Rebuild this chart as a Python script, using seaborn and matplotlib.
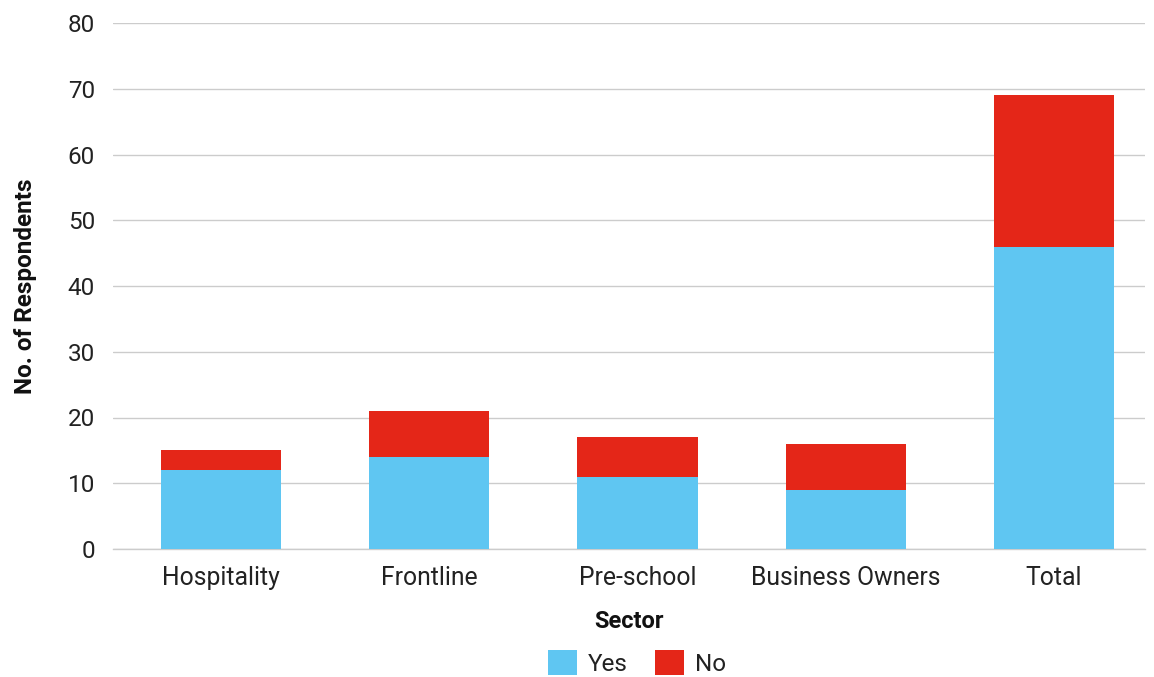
import matplotlib
matplotlib.use("Agg")
import matplotlib.pyplot as plt
import seaborn as sns
import pandas as pd
from matplotlib.patches import Patch

sectors = ["Hospitality", "Frontline", "Pre-school", "Business Owners", "Total"]
yes_vals = [12, 14, 11, 9, 46]
no_vals = [3, 7, 6, 7, 23]
yticks = [0, 10, 20, 30, 40, 50, 60, 70, 80]

YES_C = "#5FC6F2"
NO_C = "#E42618"

sns.set_theme(style="white")
plt.rcParams['font.family'] = ['Roboto', 'DejaVu Sans']

df = pd.DataFrame({"Sector": sectors, "Yes": yes_vals, "No": no_vals})
df["TotalStack"] = df["Yes"] + df["No"]

fig = plt.figure(figsize=(11.54, 6.77), dpi=100)
ax = fig.add_axes([113/1154, 1 - 549/677, (1145-113)/1154, (549-23)/677])

sns.barplot(data=df, x="Sector", y="TotalStack", color=NO_C, width=0.577,
            saturation=1, ax=ax, zorder=2)
sns.barplot(data=df, x="Sector", y="Yes", color=YES_C, width=0.577,
            saturation=1, ax=ax, zorder=3)
for p in ax.patches:
    p.set_edgecolor("none")
    p.set_linewidth(0)

ax.set_xlim(-0.519, 4.437)
ax.set_ylim(0, 80)
ax.set_yticks(yticks)
ax.set_yticklabels([str(t) for t in yticks], fontsize=17.5, color="#222222")
ax.tick_params(axis="x", labelsize=17.8, labelcolor="#222222", length=0, pad=12)
ax.tick_params(axis="y", length=0, pad=13)
ax.yaxis.grid(True, color="#cccccc", linewidth=1, zorder=0)
ax.set_axisbelow(True)
for s in ["top", "right", "left"]:
    ax.spines[s].set_visible(False)
ax.spines["bottom"].set_color("#cccccc")
ax.spines["bottom"].set_linewidth(1)

ax.set_xlabel("Sector", fontsize=17, fontweight="bold", color="#111111", labelpad=15)
ax.set_ylabel("No. of Respondents", fontsize=17.5, fontweight="bold", color="#111111", labelpad=22)

handles = [Patch(facecolor=YES_C, edgecolor="none", label="Yes"),
           Patch(facecolor=NO_C, edgecolor="none", label="No")]
fig.legend(handles=handles, loc="center", bbox_to_anchor=(637/1154, 1 - 663/677),
           ncol=2, frameon=False, fontsize=17.5, handlelength=1.2, handleheight=1.2,
           handletextpad=0.45, columnspacing=1.1, labelcolor="#222222")

fig.savefig("out.png", dpi=100)
